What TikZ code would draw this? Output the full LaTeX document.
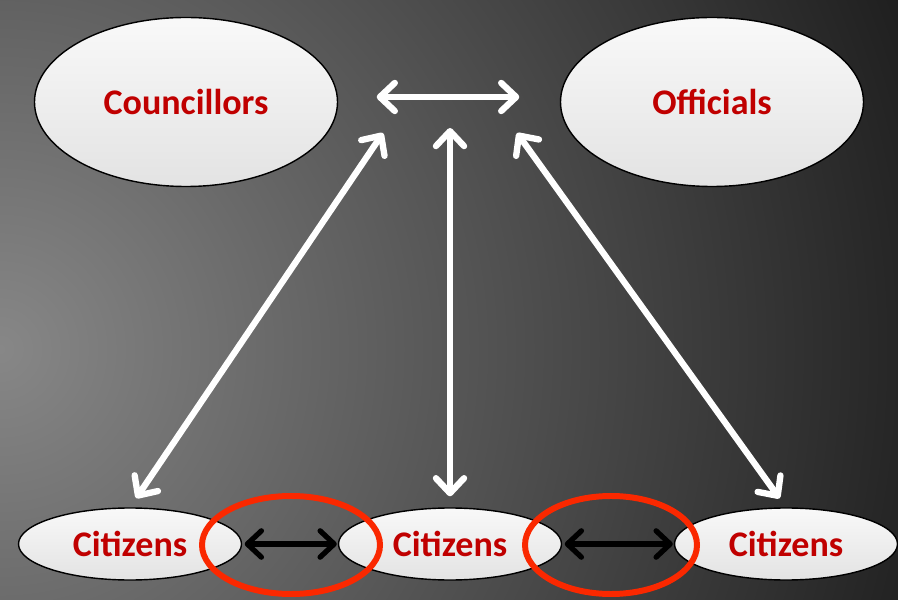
\documentclass[tikz,border=0pt]{standalone}
\usepackage{fontspec}
\setmainfont{Carlito}
\usetikzlibrary{shapes.geometric,arrows.meta}
\definecolor{txtred}{RGB}{192,0,0}
\definecolor{ringred}{RGB}{250,40,0}
\definecolor{bglight}{RGB}{135,135,135}
\definecolor{bgdark}{RGB}{30,30,30}
\begin{document}
\begin{tikzpicture}[
    group/.style={ellipse,draw=black,line width=0.8pt,top color=gray!5,bottom color=gray!22,
        inner sep=0pt,font=\fontsize{20.5}{24}\selectfont\bfseries,text=txtred},
    bigel/.style={group,minimum width=6.06cm,minimum height=3.38cm},
    smallel/.style={group,minimum width=4.46cm,minimum height=1.44cm},
    ring/.style={ellipse,draw=ringred,line width=3.4pt,inner sep=0pt},
    whitearrow/.style={draw=white,line width=3.6pt,line cap=round,
        {Straight Barb[length=8.5pt,width=16pt,line cap=round,line join=round]}-{Straight Barb[length=8.5pt,width=16pt,line cap=round,line join=round]}},
    blackarrow/.style={draw=black,line width=3pt,line cap=round,
        {Straight Barb[length=8pt,width=15pt,line cap=round,line join=round]}-{Straight Barb[length=8pt,width=15pt,line cap=round,line join=round]}}
]
    \useasboundingbox (0,0) rectangle (17.96,11.98);
    % background
    \begin{scope}
        \clip (0,0) rectangle (17.96,11.98);
        \fill[bgdark] (0,0) rectangle (17.96,11.98);
        \shade[inner color=bglight,outer color=bgdark] (0,5) circle (19.5cm);
    \end{scope}

    \node[bigel] (coun) at (3.72,9.94) {Councillors};
    \node[bigel] (off) at (14.24,9.94) {Officials};

    \node[smallel] (cit1) at (2.60,1.10) {Citizens};
    \node[smallel] (cit2) at (9.00,1.10) {Citizens};
    \node[smallel] (cit3) at (15.72,1.10) {Citizens};

    \coordinate (hubL) at (7.66,9.32);
    \coordinate (hubM) at (9.00,9.42);
    \coordinate (hubR) at (10.34,9.32);

    \draw[whitearrow,shorten <=0.77cm,shorten >=0.81cm] ([yshift=0.1cm]coun.east) -- ([yshift=0.1cm]off.west);
    \draw[whitearrow,shorten <=0.22cm] (cit1.north) -- (hubL);
    \draw[whitearrow,shorten <=0.22cm] (cit2.north) -- (hubM);
    \draw[whitearrow,shorten <=0.22cm] (cit3.north) -- (hubR);

    \draw[blackarrow,shorten <=0.05cm,shorten >=0.02cm] (cit1.east) -- (cit2.west);
    \draw[blackarrow,shorten <=0.05cm,shorten >=0.02cm] (cit2.east) -- (cit3.west);

    \node[ring,minimum width=3.56cm,minimum height=1.96cm] (ring1) at (5.82,1.08) {};
    \node[ring,minimum width=3.44cm,minimum height=1.96cm] (ring2) at (12.22,1.08) {};
\end{tikzpicture}
\end{document}
